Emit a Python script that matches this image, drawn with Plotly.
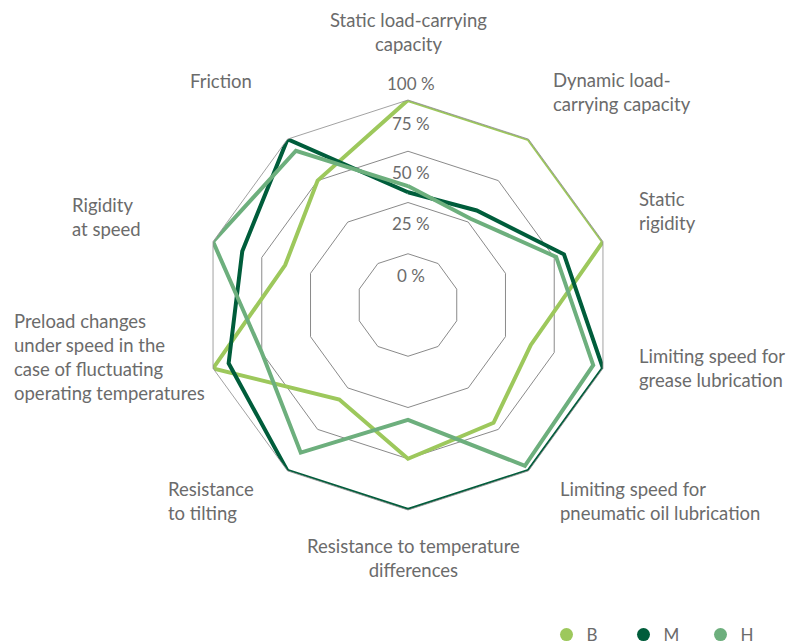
import plotly.graph_objects as go

# ---- data ----
categories = [
    "Static load-carrying capacity",
    "Dynamic load-carrying capacity",
    "Static rigidity",
    "Limiting speed for grease lubrication",
    "Limiting speed for pneumatic oil lubrication",
    "Resistance to temperature differences",
    "Resistance to tilting",
    "Preload changes under speed in the case of fluctuating operating temperatures",
    "Rigidity at speed",
    "Friction",
]
category_labels = [
    "Static load-carrying<br>capacity",
    "Dynamic load-<br>carrying capacity",
    "Static<br>rigidity",
    "Limiting speed for<br>grease lubrication",
    "Limiting speed for<br>pneumatic oil lubrication",
    "Resistance to temperature<br>differences",
    "Resistance<br>to tilting",
    "Preload changes<br>under speed in the<br>case of fluctuating<br>operating temperatures",
    "Rigidity<br>at speed",
    "Friction",
]
series_names = ["B", "M", "H"]
values_B = [100, 100, 100, 63, 71, 75, 57, 100, 63, 75]
values_M = [55, 57, 80, 100, 100, 100, 100, 92, 85, 100]
values_H = [58, 52, 76, 95, 97, 56, 89, 75, 100, 93]
tick_values = [0, 25, 50, 75, 100]
tick_labels = ["0 %", "25 %", "50 %", "75 %", "100 %"]

# ---- styling / layout ----
OFF = 8  # page offset of the plot div (body margin)
W, H = 805 - OFF, 644 - OFF
colors = {"B": "#9dc85c", "M": "#005d3b", "H": "#6daf7d"}
text_color = "#6b6b6b"
grid_color = "#8a8a8a"
FONT = "Lato"

cx, cy, R = 408, 305, 205  # polar centre and radius in page px


def px(x):
    return (x - OFF) / W


def py(y):
    return 1 - (y - OFF) / H


fig = go.Figure()
series = {"B": values_B, "M": values_M, "H": values_H}
for name in series_names:
    vals = series[name]
    fig.add_trace(go.Scatterpolar(
        r=vals + vals[:1],
        theta=categories + categories[:1],
        mode="lines",
        line=dict(color=colors[name], width=4),
        name=name,
        showlegend=False,
        hoverinfo="skip",
    ))
# legend entries (dot symbols)
for name in series_names:
    fig.add_trace(go.Scatterpolar(
        r=[None], theta=[None], mode="markers",
        marker=dict(color=colors[name], size=13, symbol="circle"),
        name=name, showlegend=True,
    ))

# category label positions (layout, page px)
cat_pos = [
    (408, 32, "center"),
    (551, 92, "left"),
    (637, 211.5, "left"),
    (637, 368, "left"),
    (558, 501, "left"),
    (413, 557.5, "center"),
    (166, 500.5, "left"),
    (12, 357, "left"),
    (70, 217, "left"),
    (221, 81, "center"),
]
annotations = []
for lab, (x, y, al) in zip(category_labels, cat_pos):
    annotations.append(dict(
        text=lab, x=px(x), y=py(y), xref="paper", yref="paper",
        xanchor=al, yanchor="middle", align=al, showarrow=False,
        font=dict(family=FONT, size=18.5, color=text_color),
    ))

# radial tick labels: sit above their ring
tick_shift = [30, 30, 30, 28, 17]
for v, t, s in zip(tick_values, tick_labels, tick_shift):
    ring_y = cy - R * v / 100
    annotations.append(dict(
        text=t, x=px(cx + 3), y=py(ring_y - s), xref="paper", yref="paper",
        xanchor="center", yanchor="middle", showarrow=False,
        font=dict(family=FONT, size=17, color=text_color),
    ))

fig.update_layout(
    width=W, height=H,
    margin=dict(l=0, r=0, t=0, b=0, autoexpand=False),
    paper_bgcolor="white",
    plot_bgcolor="white",
    font=dict(family=FONT, color=text_color),
    polar=dict(
        domain=dict(x=[px(cx - R), px(cx + R)], y=[py(cy + R), py(cy - R)]),
        bgcolor="white",
        gridshape="linear",
        radialaxis=dict(
            range=[0, 100], tickvals=[25, 50, 75, 100],
            showticklabels=False, showline=False, ticks="",
            gridcolor=grid_color, gridwidth=0.8,
        ),
        angularaxis=dict(
            direction="clockwise", rotation=90,
            showticklabels=False, ticks="", showgrid=False,
            showline=True, linecolor=grid_color, linewidth=0.8,
        ),
    ),
    showlegend=True,
    legend=dict(
        orientation="h", x=px(546.5), y=py(635), xanchor="left", yanchor="middle",
        font=dict(family=FONT, size=17, color=text_color),
        entrywidth=32, entrywidthmode="pixels",
        bgcolor="rgba(0,0,0,0)",
    ),
    annotations=annotations,
)

fig.write_html("out.html")
